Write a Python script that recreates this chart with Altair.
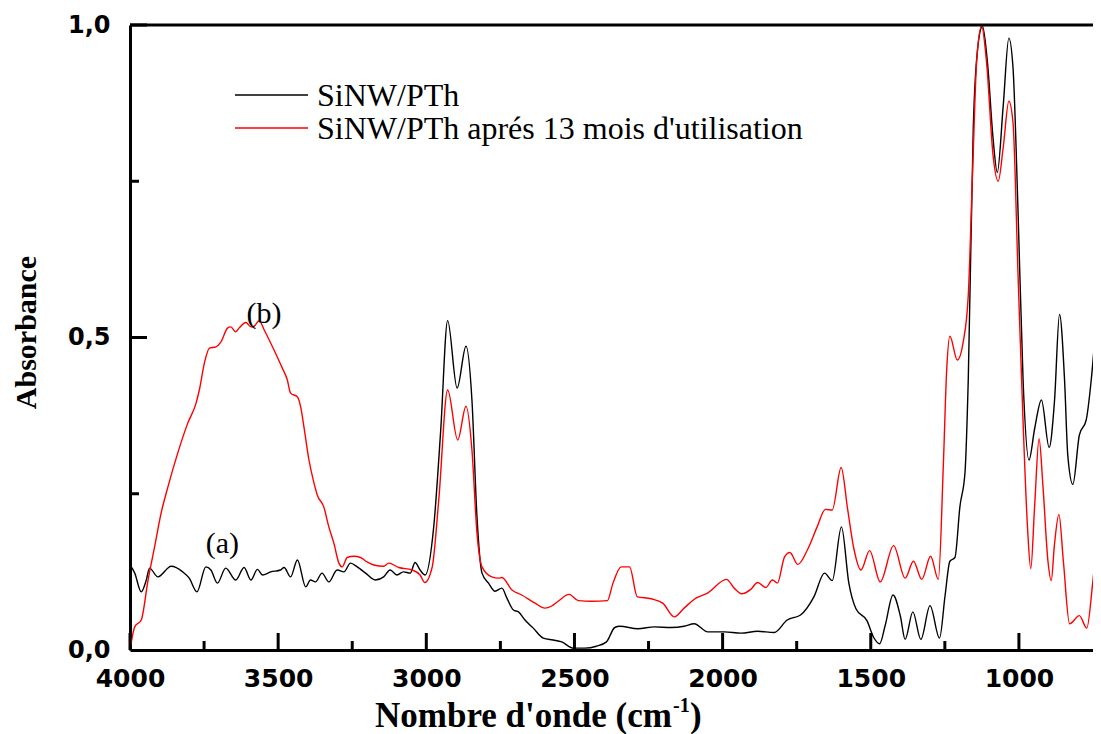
import altair as alt
import pandas as pd

# ---------------- data ----------------
black_wn = [4000, 3984, 3962, 3945, 3934, 3906, 3861, 3822, 3800, 3774, 3744, 3727, 3705, 3677,
            3643, 3615, 3592, 3570, 3553, 3525, 3492, 3480, 3458, 3435, 3407, 3391, 3374, 3352,
            3329, 3301, 3278, 3256, 3233, 3205, 3172, 3144, 3122, 3099, 3077, 3054, 3038, 3021,
            3004, 2975, 2952, 2928, 2896, 2866, 2846, 2829, 2812, 2790, 2768, 2745, 2728, 2706,
            2689, 2667, 2639, 2605, 2572, 2543, 2504, 2465, 2426, 2392, 2364, 2347, 2286, 2230,
            2174, 2130, 2096, 2050, 1994, 1938, 1882, 1826, 1782, 1737, 1692, 1656, 1630, 1599,
            1574, 1550, 1513, 1490, 1470, 1451, 1425, 1400, 1384, 1358, 1331, 1300, 1268, 1249,
            1233, 1216, 1199, 1182, 1171, 1154, 1137, 1123, 1106, 1087, 1073, 1053, 1034, 1020,
            1003, 986, 966, 947, 924, 898, 880, 863, 846, 835, 818, 796, 773, 756, 739]
black_abs = [0.136, 0.123, 0.093, 0.112, 0.131, 0.117, 0.134, 0.125, 0.115, 0.093, 0.133, 0.128, 0.107, 0.131,
             0.112, 0.132, 0.112, 0.129, 0.120, 0.125, 0.128, 0.132, 0.117, 0.144, 0.101, 0.112, 0.109, 0.123,
             0.109, 0.128, 0.125, 0.139, 0.133, 0.123, 0.112, 0.117, 0.128, 0.120, 0.125, 0.123, 0.140, 0.128,
             0.120, 0.197, 0.347, 0.527, 0.419, 0.486, 0.400, 0.213, 0.123, 0.107, 0.094, 0.099, 0.083, 0.064,
             0.061, 0.048, 0.035, 0.019, 0.016, 0.013, 0.003, 0.003, 0.006, 0.013, 0.036, 0.038, 0.034, 0.037,
             0.036, 0.038, 0.042, 0.029, 0.029, 0.027, 0.030, 0.028, 0.048, 0.056, 0.085, 0.123, 0.111, 0.197,
             0.107, 0.066, 0.047, 0.020, 0.010, 0.040, 0.088, 0.054, 0.017, 0.061, 0.017, 0.071, 0.019, 0.088,
             0.142, 0.148, 0.230, 0.284, 0.432, 0.837, 0.972, 0.998, 0.939, 0.817, 0.764, 0.871, 0.979, 0.932,
             0.702, 0.432, 0.304, 0.354, 0.400, 0.324, 0.398, 0.537, 0.432, 0.311, 0.265, 0.344, 0.368, 0.432, 0.527]

red_wn = [4000, 3984, 3962, 3939, 3917, 3895, 3872, 3839, 3805, 3777, 3766, 3749, 3732, 3710,
          3693, 3671, 3660, 3643, 3632, 3609, 3592, 3581, 3564, 3547, 3514, 3486, 3469, 3458,
          3435, 3424, 3413, 3396, 3379, 3368, 3346, 3329, 3312, 3295, 3284, 3267, 3245, 3222,
          3200, 3177, 3144, 3127, 3093, 3048, 3021, 3005, 2980, 2958, 2928, 2894, 2866, 2846,
          2829, 2812, 2779, 2756, 2745, 2711, 2678, 2633, 2600, 2578, 2555, 2518, 2487, 2442,
          2389, 2370, 2342, 2314, 2288, 2241, 2202, 2163, 2130, 2090, 2051, 1987, 1961, 1936,
          1905, 1882, 1854, 1832, 1815, 1791, 1773, 1746, 1714, 1681, 1653, 1630, 1600, 1578,
          1557, 1533, 1504, 1468, 1423, 1384, 1356, 1328, 1298, 1272, 1255, 1244, 1233, 1208,
          1188, 1171, 1156, 1143, 1126, 1109, 1087, 1070, 1053, 1034, 1020, 1003, 986, 971,
          960, 947, 932, 919, 902, 891, 880, 865, 850, 829, 796, 771, 751, 737]
red_abs = [0.000, 0.037, 0.048, 0.112, 0.165, 0.219, 0.261, 0.315, 0.363, 0.395, 0.416, 0.459, 0.483, 0.485,
           0.493, 0.515, 0.517, 0.509, 0.515, 0.524, 0.517, 0.518, 0.527, 0.512, 0.480, 0.451, 0.432, 0.411,
           0.405, 0.389, 0.357, 0.304, 0.267, 0.248, 0.229, 0.197, 0.171, 0.139, 0.133, 0.148, 0.150, 0.148,
           0.141, 0.136, 0.134, 0.139, 0.132, 0.128, 0.120, 0.108, 0.133, 0.240, 0.416, 0.336, 0.390, 0.320,
           0.187, 0.133, 0.117, 0.115, 0.116, 0.096, 0.088, 0.075, 0.067, 0.070, 0.078, 0.089, 0.079, 0.078,
           0.079, 0.107, 0.133, 0.133, 0.085, 0.082, 0.075, 0.053, 0.067, 0.083, 0.091, 0.113, 0.099, 0.090,
           0.097, 0.108, 0.100, 0.112, 0.107, 0.149, 0.156, 0.137, 0.160, 0.197, 0.225, 0.224, 0.292, 0.225,
           0.162, 0.128, 0.159, 0.109, 0.167, 0.115, 0.142, 0.113, 0.150, 0.113, 0.297, 0.446, 0.502, 0.464,
           0.493, 0.567, 0.770, 0.939, 0.998, 0.939, 0.790, 0.750, 0.804, 0.878, 0.844, 0.601, 0.365, 0.196,
           0.130, 0.230, 0.338, 0.263, 0.142, 0.111, 0.169, 0.217, 0.142, 0.042, 0.055, 0.035, 0.108, 0.176]

series_names = ["SiNW/PTh", "SiNW/PTh aprés 13 mois d'utilisation"]
series_colors = ["#000000", "#ff0000"]

x_label_values = [4000, 3500, 3000, 2500, 2000, 1500, 1000]
x_minor_ticks = [3750, 3250, 2750, 2250, 1750, 1250]
y_label_values = [0.0, 0.5, 1.0]
y_major_ticks = [0.5, 1.0]
y_minor_ticks = [0.25, 0.75]

annot_labels = ["(a)", "(b)"]
annot_wn = [3688, 3548]
annot_abs = [0.169, 0.538]

x_title = "Nombre d'onde (cm"
x_title_sup = "-1"
x_title_end = ")"
y_title = "Absorbance"

# ---------------- chart ----------------
W, H = 963, 625
xscale = alt.Scale(domain=[750, 4000], reverse=True, nice=False, zero=False)
yscale = alt.Scale(domain=[0, 1], nice=False, zero=False)

x_axis = alt.Axis(
    values=x_label_values, format="d", title=None, ticks=False, tickSize=0,
    grid=False, domainWidth=3, domainColor="black", labelColor="black",
    labelFont="DejaVu Sans", labelFontWeight="bold", labelFontSize=25,
    labelPadding=16, labelFlush=False, labelOverlap=False)
y_axis = alt.Axis(
    values=y_label_values, labelExpr="replace(format(datum.value, '.1f'), '.', ',')",
    title=y_title, titleFont="Liberation Serif", titleFontWeight="bold", titleFontSize=30,
    titleColor="black", titleAngle=270, titleX=-95, titleY=307, titleAlign="center",
    titleBaseline="alphabetic", ticks=False, tickSize=0, grid=False, domainWidth=3,
    domainColor="black", labelColor="black", labelFont="DejaVu Sans",
    labelFontWeight="bold", labelFontSize=24, labelPadding=20, labelFlush=False,
    labelOverlap=False)

X = lambda: alt.X("wn:Q", scale=xscale, axis=x_axis)
Y = lambda: alt.Y("A:Q", scale=yscale, axis=y_axis)

df = pd.concat([
    pd.DataFrame({"wn": black_wn, "A": black_abs, "series": series_names[0]}),
    pd.DataFrame({"wn": red_wn, "A": red_abs, "series": series_names[1]}),
])

lines = alt.Chart(df).mark_line(strokeWidth=1.4, interpolate="monotone", clip=True).encode(
    x=X(), y=Y(),
    color=alt.Color("series:N", scale=alt.Scale(domain=series_names, range=series_colors), legend=None),
    detail="series:N",
)

xt_major = alt.Chart(pd.DataFrame({"wn": x_label_values})).mark_rule(strokeWidth=3, color="black").encode(
    x=X(), y=alt.value(H), y2=alt.value(H - 17))
xt_minor = alt.Chart(pd.DataFrame({"wn": x_minor_ticks})).mark_rule(strokeWidth=3, color="black").encode(
    x=X(), y=alt.value(H), y2=alt.value(H - 9))
yt_major = alt.Chart(pd.DataFrame({"A": y_major_ticks})).mark_rule(strokeWidth=3, color="black").encode(
    y=Y(), x=alt.value(0), x2=alt.value(17))
yt_minor = alt.Chart(pd.DataFrame({"A": y_minor_ticks})).mark_rule(strokeWidth=3, color="black").encode(
    y=Y(), x=alt.value(0), x2=alt.value(9))

top_border = alt.Chart(pd.DataFrame({"A": [1.0]})).mark_rule(strokeWidth=3, color="black").encode(
    y=Y(), x=alt.value(0), x2=alt.value(W))

annots = alt.Chart(pd.DataFrame({"wn": annot_wn, "A": annot_abs, "t": annot_labels})).mark_text(
    font="Liberation Serif", fontSize=30, color="black", align="center", baseline="middle").encode(
    x=X(), y=Y(), text="t:N")

leg_layers = []
for i, (name, col) in enumerate(zip(series_names, series_colors)):
    ly = 70 + 33 * i
    dleg = pd.DataFrame({"label": [name]})
    leg_layers.append(alt.Chart(dleg).mark_rule(color=col, strokeWidth=1.3).encode(
        x=alt.value(105), x2=alt.value(178), y=alt.value(ly)))
    leg_layers.append(alt.Chart(dleg).mark_text(
        font="Liberation Serif", fontSize=32, color="black", align="left", baseline="middle").encode(
        x=alt.value(187), y=alt.value(ly + 1), text="label:N"))

xt1 = alt.Chart(pd.DataFrame({"t": [x_title]})).mark_text(
    font="Liberation Serif", fontWeight="bold", fontSize=35, color="black",
    align="left", baseline="alphabetic").encode(x=alt.value(245), y=alt.value(702), text="t:N")
xt2 = alt.Chart(pd.DataFrame({"t": [x_title_sup]})).mark_text(
    font="Liberation Serif", fontWeight="bold", fontSize=20, color="black",
    align="left", baseline="alphabetic").encode(x=alt.value(543), y=alt.value(687), text="t:N")
xt3 = alt.Chart(pd.DataFrame({"t": [x_title_end]})).mark_text(
    font="Liberation Serif", fontWeight="bold", fontSize=35, color="black",
    align="left", baseline="alphabetic").encode(x=alt.value(560), y=alt.value(702), text="t:N")

chart = alt.layer(
    lines, xt_major, xt_minor, yt_major, yt_minor, top_border, annots, *leg_layers, xt1, xt2, xt3
).properties(
    width=W, height=H,
    padding={"left": 122, "top": 17, "right": 0, "bottom": 85},
    autosize=alt.AutoSizeParams(type="none"),
).configure_view(stroke=None).configure(background="white")

chart.save("out.html", embed_options={"renderer": "svg", "actions": False})
